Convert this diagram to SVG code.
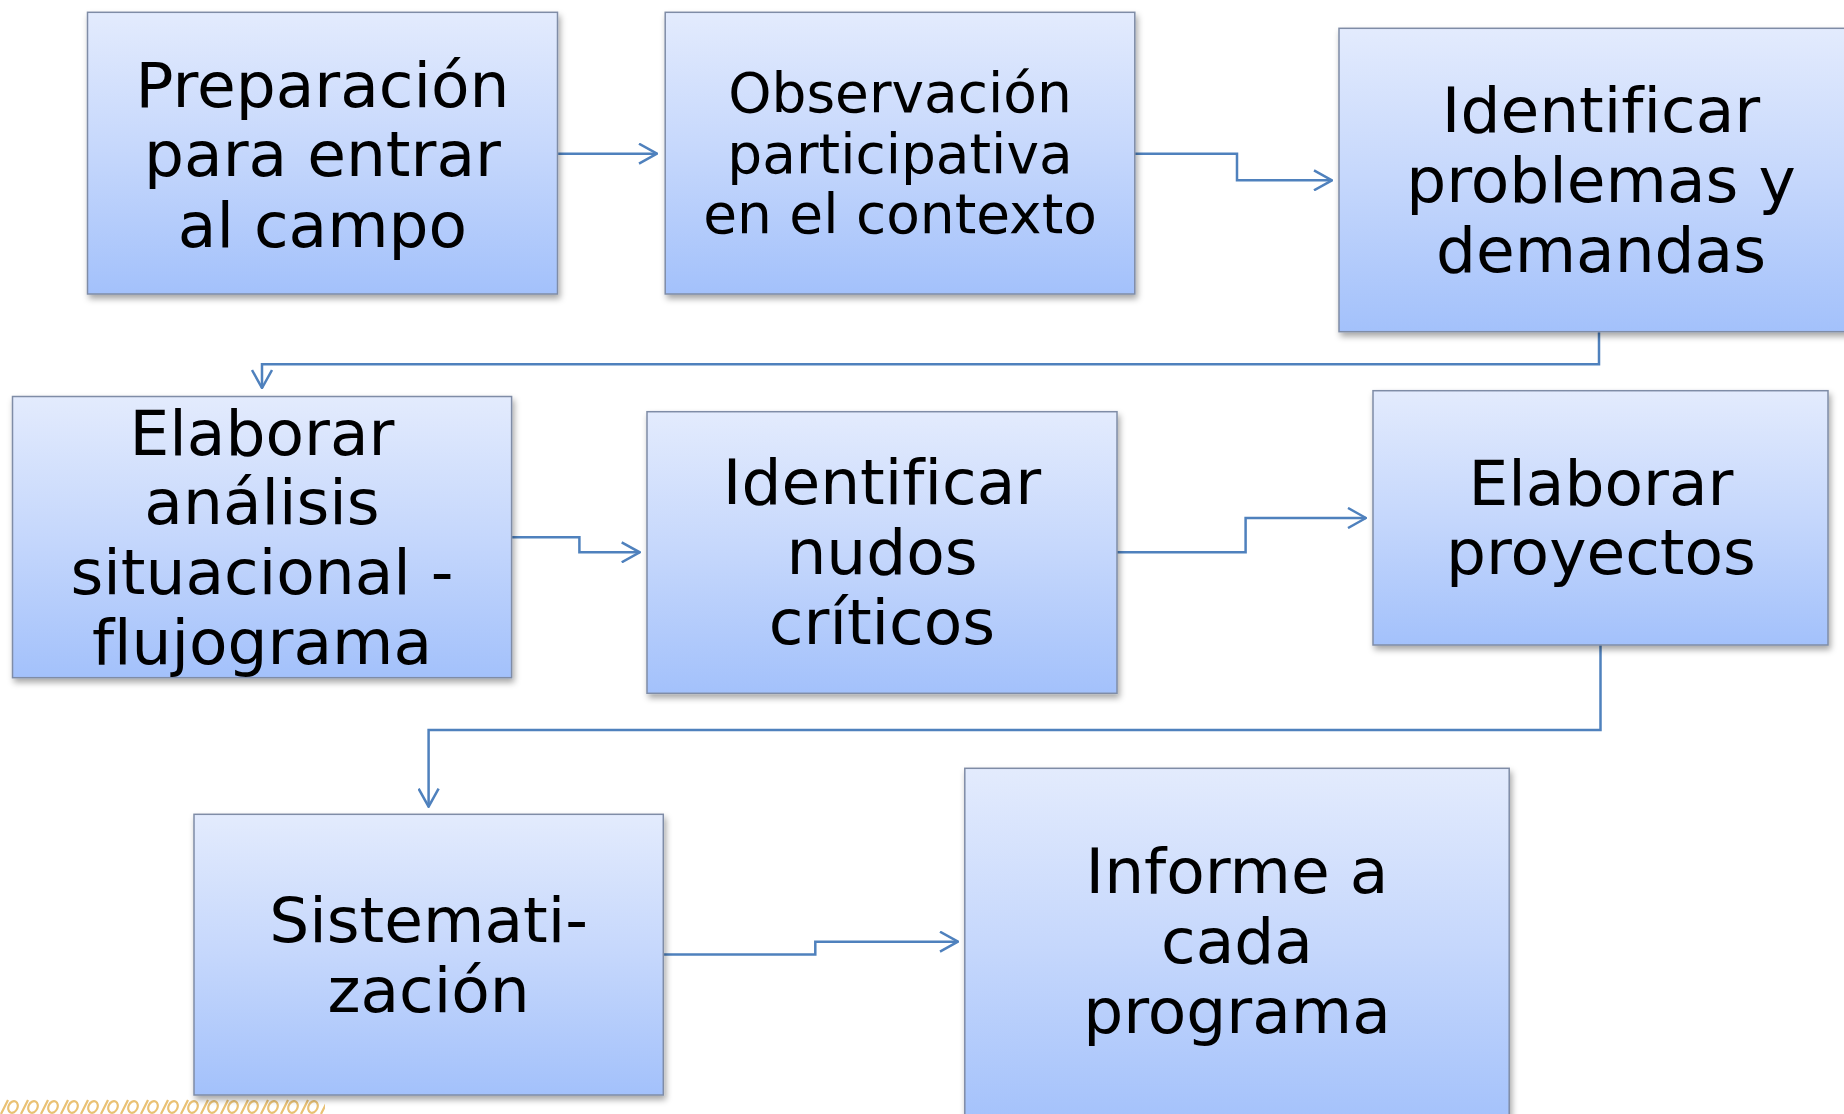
<svg xmlns="http://www.w3.org/2000/svg" width="1844" height="1114" viewBox="0 0 1844 1114">
<defs>
<linearGradient id="boxGrad" x1="0" y1="0" x2="0" y2="1">
<stop offset="0" stop-color="#e3ebfd"/>
<stop offset="0.5" stop-color="#c5d7fc"/>
<stop offset="1" stop-color="#a3c1fb"/>
</linearGradient>
<filter id="shadow" x="-10%" y="-10%" width="120%" height="130%">
<feDropShadow dx="2" dy="4" stdDeviation="3" flood-color="#000" flood-opacity="0.35"/>
</filter>
<marker id="arrow" viewBox="0 0 20 22" refX="19" refY="11" markerWidth="20" markerHeight="22" markerUnits="userSpaceOnUse" orient="auto">
<path d="M1,1 L19,11 L1,21" fill="none" stroke="#4f81bd" stroke-width="2.5"/>
</marker>
<pattern id="deco" x="0" y="1096" width="20" height="18" patternUnits="userSpaceOnUse">
<path d="M1,18 L8,4" stroke="#e2ac45" stroke-width="2.2" fill="none"/>
<ellipse cx="13" cy="11" rx="4.5" ry="6" transform="rotate(25 13 11)" stroke="#e2ac45" stroke-width="2.2" fill="none"/>
</pattern>
</defs>
<style>
.box { fill: url(#boxGrad); stroke: #7f8ca6; stroke-width: 1.5; filter: url(#shadow); }
.lbl { font-family: "DejaVu Sans", Verdana, "Liberation Sans", sans-serif; font-size: 63px; fill: #000; text-anchor: middle; font-variant-ligatures: none; font-feature-settings: "liga" 0; }
.sm { font-size: 55px; }
.conn { fill: none; stroke: #4f81bd; stroke-width: 2.5; marker-end: url(#arrow); }
</style>
<rect x="0" y="1096" width="325" height="18" fill="url(#deco)" opacity="0.75"/>
<g id="connectors">
<path class="conn" d="M557.6,153.7 H657"/>
<path class="conn" d="M1135,153.7 H1237 V180.3 H1332"/>
<path class="conn" d="M1599,332 V364.3 H262 V388"/>
<path class="conn" d="M511.6,537.3 H579.4 V552.3 H639.7"/>
<path class="conn" d="M1117,552.3 H1245.6 V518 H1366"/>
<path class="conn" d="M1600.5,645 V730 H428.6 V806.7"/>
<path class="conn" d="M663.3,954.5 H815.3 V941.7 H958"/>
</g>
<g id="n1">
<rect class="box" x="87.5" y="12.3" width="470" height="281.7"/>
<text class="lbl" x="322.5" y="106.7">Preparación</text>
<text class="lbl" x="322.5" y="176">para entrar</text>
<text class="lbl" x="322.5" y="246.7">al campo</text>
</g>
<g id="n2">
<rect class="box" x="665.2" y="12.3" width="469.6" height="281.7"/>
<text class="lbl sm" x="900" y="111.7">Observación</text>
<text class="lbl sm" x="900" y="172.5">participativa</text>
<text class="lbl sm" x="900" y="233.3">en el contexto</text>
</g>
<g id="n3">
<rect class="box" x="1339" y="28.3" width="524" height="303.4"/>
<text class="lbl" x="1601" y="131.7">Identificar</text>
<text class="lbl" x="1601" y="201.7">problemas y</text>
<text class="lbl" x="1601" y="271.7">demandas</text>
</g>
<g id="n4">
<rect class="box" x="12.5" y="396.5" width="499.1" height="281.2"/>
<text class="lbl" x="262" y="455">Elaborar</text>
<text class="lbl" x="262" y="524.3">análisis</text>
<text class="lbl" x="262" y="593.6">situacional -</text>
<text class="lbl" x="262" y="663.5">flujograma</text>
</g>
<g id="n5">
<rect class="box" x="647" y="411.7" width="470" height="281.6"/>
<text class="lbl" x="882" y="504">Identificar</text>
<text class="lbl" x="882" y="574.3">nudos</text>
<text class="lbl" x="882" y="644.3">críticos</text>
</g>
<g id="n6">
<rect class="box" x="1373" y="390.7" width="455" height="254.3"/>
<text class="lbl" x="1601" y="505">Elaborar</text>
<text class="lbl" x="1601" y="574">proyectos</text>
</g>
<g id="n7">
<rect class="box" x="194" y="814.3" width="469.3" height="280.7"/>
<text class="lbl" x="428.6" y="942.3">Sistemati-</text>
<text class="lbl" x="428.6" y="1012.3">zación</text>
</g>
<g id="n8">
<rect class="box" x="964.8" y="768.3" width="544.4" height="360"/>
<text class="lbl" x="1237" y="893.3">Informe a</text>
<text class="lbl" x="1237" y="963.3">cada</text>
<text class="lbl" x="1237" y="1033.3">programa</text>
</g>
</svg>
